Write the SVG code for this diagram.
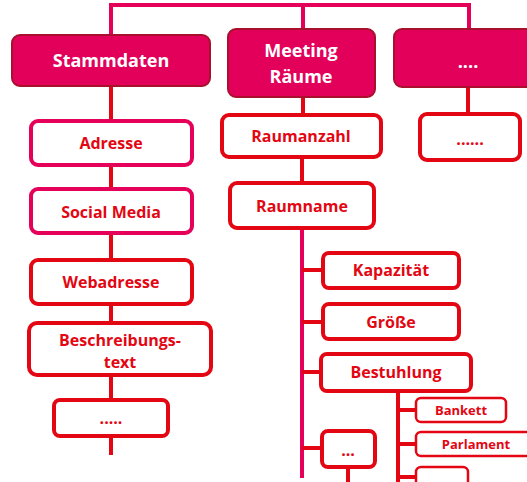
<svg xmlns="http://www.w3.org/2000/svg" width="527" height="482" viewBox="0 0 527 482">
<style>
.hd{fill:#E2005A;stroke:#A8102E;stroke-width:2}
.bx{fill:#fff;stroke:#E30613;stroke-width:4}
.bp{fill:#fff;stroke:#E5005A;stroke-width:4}
.sm{fill:#fff;stroke:#E30613;stroke-width:2.5}
.ht{font-family:"Open Sans","Liberation Sans",sans-serif;font-weight:bold;font-size:18px;fill:#fff;text-anchor:middle}
.t{font-family:"Open Sans","Liberation Sans",sans-serif;font-weight:bold;font-size:16px;fill:#E30613;text-anchor:middle}
.ts{font-family:"Open Sans","Liberation Sans",sans-serif;font-weight:bold;font-size:13px;fill:#E30613;text-anchor:middle}
.cp{stroke:#E5005A;stroke-width:4;fill:none}
.cr{stroke:#E30613;stroke-width:4;fill:none}
</style>
<g id="connectors">
<path class="cp" d="M111,35 V5 H469 V30 M303,5 V30"/>
<path class="cr" d="M111,86 V120 M111,165 V189 M111,233 V260 M111,304 V323 M111,375 V400 M111,436 V455"/>
<path class="cr" d="M303,97 V115 M468,87 V114 M302,157 V183"/>
<path class="cp" d="M302,228 V478"/>
<path class="cr" d="M302,270 H323 M302,322 H323 M302,372 H322 M302,448 H322 M348,467 V482"/>
<path class="cr" d="M398,391 V482 M398,410 H416 M398,444 H416 M398,477 H416"/>
</g>
<g id="stammdaten"><rect class="hd" x="12" y="35" width="198" height="51" rx="8"/><text class="ht" x="111" y="67">Stammdaten</text></g>
<g id="meeting"><rect class="hd" x="228" y="29" width="147" height="68" rx="8"/><text class="ht" x="301" y="57">Meeting</text><text class="ht" x="301" y="83">Räume</text></g>
<g id="more-header"><rect class="hd" x="394" y="29" width="145" height="58" rx="8"/><text class="ht" x="468" y="68">....</text></g>
<g id="adresse"><rect class="bp" x="31" y="121" width="161" height="44" rx="7"/><text class="t" x="111" y="149">Adresse</text></g>
<g id="social"><rect class="bp" x="31" y="189" width="161" height="44" rx="7"/><text class="t" x="111" y="218">Social Media</text></g>
<g id="webadresse"><rect class="bx" x="31" y="260" width="161" height="44" rx="7"/><text class="t" x="111" y="288">Webadresse</text></g>
<g id="beschreibung"><rect class="bx" x="29" y="323" width="182" height="52" rx="8"/><text class="t" x="120" y="346">Beschreibungs-</text><text class="t" x="120" y="368">text</text></g>
<g id="more-left"><rect class="bx" x="54" y="400" width="114" height="36" rx="6"/><text class="t" x="111" y="424">.....</text></g>
<g id="raumanzahl"><rect class="bx" x="222" y="115" width="159" height="42" rx="7"/><text class="t" x="301" y="142">Raumanzahl</text></g>
<g id="more-right"><rect class="bx" x="420" y="114" width="100" height="46" rx="7"/><text class="t" x="470" y="145">......</text></g>
<g id="raumname"><rect class="bx" x="230" y="183" width="144" height="45" rx="7"/><text class="t" x="302" y="212">Raumname</text></g>
<g id="kapazitaet"><rect class="bx" x="323" y="253" width="136" height="35" rx="6"/><text class="t" x="391" y="276">Kapazität</text></g>
<g id="groesse"><rect class="bx" x="323" y="304" width="136" height="35" rx="6"/><text class="t" x="391" y="328">Größe</text></g>
<g id="bestuhlung"><rect class="bx" x="321" y="354" width="150" height="37" rx="6"/><text class="t" x="396" y="378">Bestuhlung</text></g>
<g id="more-raum"><rect class="bx" x="322" y="431" width="53" height="36" rx="6"/><text class="t" x="348" y="456">...</text></g>
<g id="bankett"><rect class="sm" x="416" y="398" width="90" height="24" rx="5"/><text class="ts" x="461" y="415">Bankett</text></g>
<g id="parlament"><rect class="sm" x="416" y="432" width="120" height="24" rx="5"/><text class="ts" x="476" y="449">Parlament</text></g>
<g id="more-bestuhlung"><rect class="sm" x="416" y="467" width="52" height="24" rx="5"/></g>
</svg>
